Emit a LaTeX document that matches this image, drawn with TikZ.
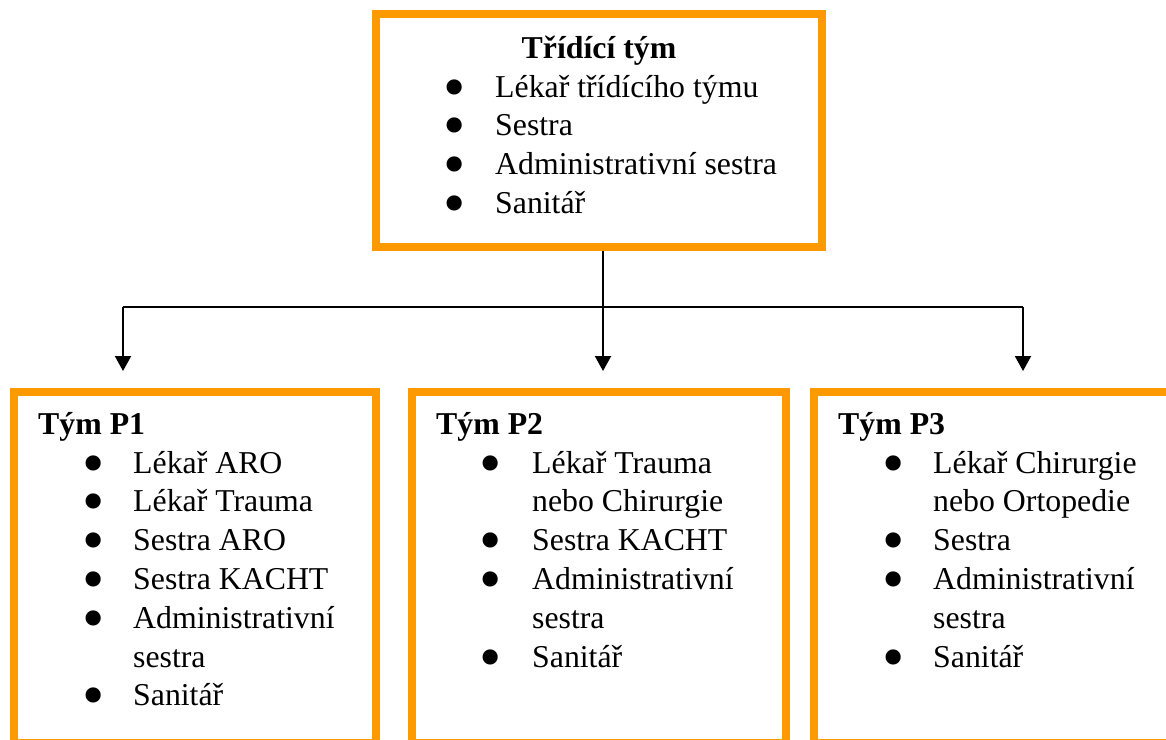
\documentclass[tikz,border=0pt]{standalone}
\usepackage{fontspec}
\usepackage{graphicx}
\setmainfont{Liberation Serif}
\usetikzlibrary{arrows.meta}
\definecolor{boxorange}{RGB}{255,153,0}
\tikzset{
  teambox/.style={draw=boxorange, line width=8pt, fill=white, rectangle, inner sep=0pt},
  conn/.style={draw=black, line width=2pt},
  arr/.style={conn, -{Triangle[width=16pt,length=15pt]}, shorten >=17pt},
  title/.style={inner sep=0pt, font=\fontsize{31.8}{38.8}\selectfont\bfseries},
  items/.style={inner sep=0pt, anchor=base west, font=\fontsize{31.8}{38.8}\selectfont, align=left},
}
\newcommand{\bul}{\makebox[12pt]{\smash{\raisebox{-11pt}{\scalebox{2}{•}}}}}
\newcommand{\itemlist}[2]{\begin{tabular}[t]{@{}p{#1}@{}l@{}}#2\end{tabular}}
\begin{document}
\begin{tikzpicture}[x=1pt,y=-1pt]
\useasboundingbox (0,0) rectangle (1166,739);
\clip (0,0) rectangle (1166,739);
\fill[white] (0,0) rectangle (1166,739);

% boxes
\node[teambox, minimum width=446pt, minimum height=233pt] (top) at (599,130.5) {};
\node[teambox, minimum width=362pt, minimum height=350.5pt] (p1) at (194.5,567.25) {};
\node[teambox, minimum width=374.5pt, minimum height=350.5pt] (p2) at (598.75,567.25) {};
\node[teambox, minimum width=386pt, minimum height=350.5pt] (p3) at (1007,567.25) {};

% top box text
\node[title, anchor=base] (ttitle) at (599,58) {Třídící tým};
\node[items] (tlist) at (448,97) {\itemlist{47pt}{\bul&Lékař třídícího týmu\\ \bul&Sestra\\ \bul&Administrativní sestra\\ \bul&Sanitář}};

% P1
\node[title, anchor=base west] (t1) at (38,434) {Tým P1};
\node[items] (l1) at (87,473) {\itemlist{46pt}{\bul&Lékař ARO\\ \bul&Lékař Trauma\\ \bul&Sestra ARO\\ \bul&Sestra KACHT\\ \bul&Administrativní\\ &sestra\\ \bul&Sanitář}};

% P2
\node[title, anchor=base west] (t2) at (436,434) {Tým P2};
\node[items] (l2) at (484,473) {\itemlist{48pt}{\bul&Lékař Trauma\\ &nebo Chirurgie\\ \bul&Sestra KACHT\\ \bul&Administrativní\\ &sestra\\ \bul&Sanitář}};

% P3
\node[title, anchor=base west] (t3) at (838,434) {Tým P3};
\node[items] (l3) at (887,473) {\itemlist{46pt}{\bul&Lékař Chirurgie\\ &nebo Ortopedie\\ \bul&Sestra\\ \bul&Administrativní\\ &sestra\\ \bul&Sanitář}};

% connectors
\coordinate (j) at (603,307);
\coordinate (j1) at (123,307);
\coordinate (j3) at (1023,307);
\draw[conn] (j |- top.south) -- (j);
\draw[conn] (j1) -- (j3);
\draw[arr] (j1) -- (j1 |- p1.north);
\draw[arr] (j) -- (j |- p2.north);
\draw[arr] (j3) -- (j3 |- p3.north);
\end{tikzpicture}
\end{document}
